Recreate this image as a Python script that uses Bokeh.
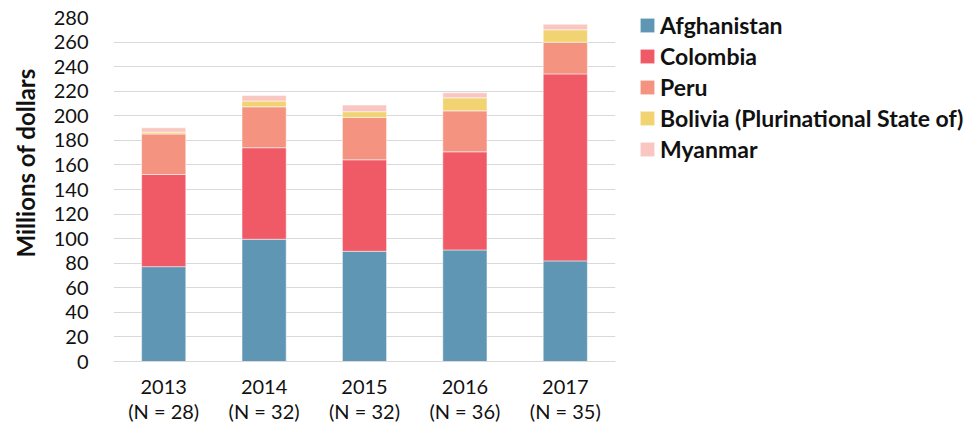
from bokeh.plotting import figure
from bokeh.models import Legend, LegendItem, FixedTicker, Title
from bokeh.embed import file_html
from bokeh.resources import INLINE

years = ["2013", "2014", "2015", "2016", "2017"]
n_counts = [28, 32, 32, 36, 35]
afghanistan = [77.2, 99.5, 89.7, 90.8, 81.9]
colombia = [75.0, 74.5, 74.5, 79.9, 152.2]
peru = [33.0, 33.3, 34.5, 33.3, 25.8]
bolivia = [1.5, 4.7, 4.6, 10.6, 10.1]
myanmar = [3.5, 4.6, 5.4, 4.1, 4.5]
countries = ["Afghanistan", "Colombia", "Peru",
             "Bolivia (Plurinational State of)", "Myanmar"]
colors = ["#5f96b3", "#f05a67", "#f4937f", "#f1d372", "#f9c6c1"]
y_ticks = list(range(0, 281, 20))
y_title = "Millions of dollars"

labels = [f"{y}\n(N = {n})" for y, n in zip(years, n_counts)]
keys = ["afghanistan", "colombia", "peru", "bolivia", "myanmar"]
data = dict(labels=labels, afghanistan=afghanistan, colombia=colombia,
            peru=peru, bolivia=bolivia, myanmar=myanmar)

p = figure(x_range=labels, y_range=(0, 280), output_backend="svg",
           toolbar_location=None, frame_width=502, frame_height=344,
           min_border_left=113, min_border_right=356, min_border_top=17,
           min_border_bottom=40)

renderers = p.vbar_stack(keys, x="labels", width=0.44, source=data,
                         color=colors, line_color="white", line_alpha=0.5,
                         line_width=1)

font = "Lato"
ink = "#111111"
p.xgrid.grid_line_color = None
p.ygrid.grid_line_color = "#d9d9d9"
p.ygrid.grid_line_width = 1.2
p.outline_line_color = None

p.yaxis.ticker = FixedTicker(ticks=y_ticks)
p.yaxis.axis_line_color = None
p.yaxis.major_tick_line_color = None
p.yaxis.minor_tick_line_color = None
p.yaxis.major_tick_out = 0
p.yaxis.minor_tick_out = 0
p.yaxis.major_label_standoff = 25
p.yaxis.major_label_text_font = font
p.yaxis.major_label_text_font_size = "20px"
p.yaxis.major_label_text_color = ink

ytitle = Title(text=y_title, align="left", offset=104, standoff=18,
               vertical_align="top", text_font=font, text_font_style="bold",
               text_font_size="24px", text_color=ink)
p.add_layout(ytitle, "left")

p.xaxis.axis_line_color = "#d9d9d9"
p.xaxis.axis_line_width = 1.2
p.xaxis.major_tick_line_color = None
p.xaxis.minor_tick_line_color = None
p.xaxis.major_tick_out = 0
p.xaxis.major_label_standoff = 12
p.xaxis.major_label_text_font = font
p.xaxis.major_label_text_font_size = "20px"
p.xaxis.major_label_text_color = ink
p.xaxis.major_label_text_line_height = 1.08

items = [LegendItem(label=c, renderers=[r]) for c, r in zip(countries, renderers)]
legend = Legend(items=items, location=(23, 198), padding=0, spacing=3,
                margin=0, glyph_width=18, glyph_height=18, label_height=20,
                label_standoff=4, background_fill_alpha=0,
                border_line_color=None, label_text_font=font,
                label_text_font_style="bold", label_text_font_size="23px",
                label_text_color=ink)
p.add_layout(legend, "right")

open("out.html", "w").write(file_html(p, INLINE))
